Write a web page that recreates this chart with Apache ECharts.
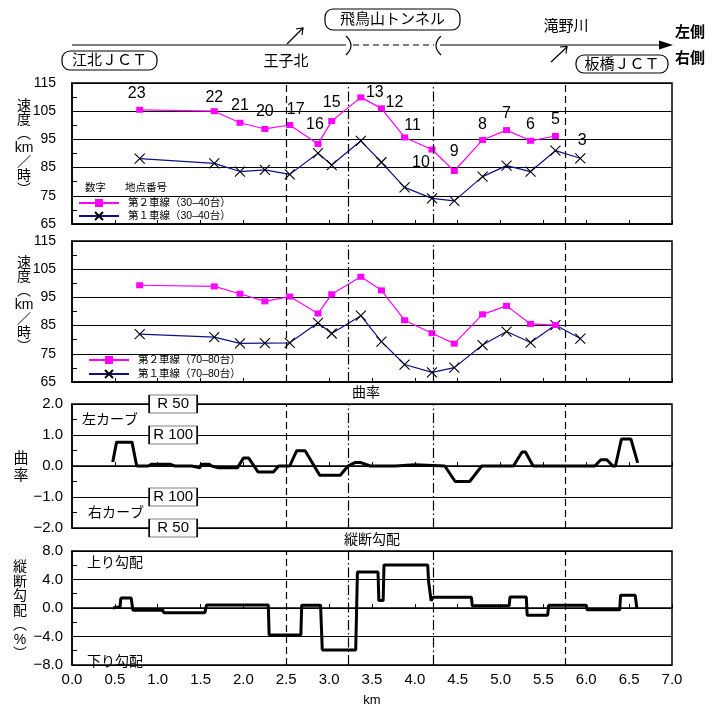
<!DOCTYPE html>
<html>
<head>
<meta charset="utf-8">
<title>速度・曲率・縦断勾配</title>
<script src="https://cdn.jsdelivr.net/npm/echarts@6/dist/echarts.min.js"></script>
<style>
  html, body { margin: 0; padding: 0; background: #fff; }
  #main { width: 719px; height: 708px; }
</style>
</head>
<body>
<div id="main"></div>
<script>
// 地点（km）と地点番号
var kmPts    = [0.79, 1.66, 1.96, 2.25, 2.54, 2.87, 3.03, 3.37, 3.61, 3.88, 4.20, 4.46, 4.79, 5.07, 5.35, 5.64, 5.93];
var stations = [23, 22, 21, 20, 17, 16, 15, 13, 12, 11, 10, 9, 8, 7, 6, 5, 3];

// 速度（km/時）
var lane2_3040 = [105.5, 105.0, 100.9, 98.7, 100.1, 93.4, 101.5, 109.9, 106.0, 95.7, 91.4, 83.8, 94.8, 98.3, 94.5, 96.2, null];
var lane1_3040 = [88.2, 86.5, 83.6, 84.2, 82.6, 90.1, 85.9, 94.5, 86.9, 78.0, 74.1, 73.2, 81.8, 85.7, 83.6, 91.0, 88.3];
var lane2_7080 = [99.3, 98.9, 96.3, 93.6, 95.3, 89.3, 96.1, 102.3, 97.5, 86.9, 82.3, 78.6, 89.0, 92.0, 85.6, 85.2, null];
var lane1_7080 = [82.0, 80.9, 78.7, 78.8, 78.9, 86.0, 82.2, 88.5, 79.3, 71.2, 68.4, 70.1, 78.1, 82.9, 79.0, 85.2, 80.4];

// 曲率
var curvKm  = [0.475, 0.52, 0.70, 0.755, 0.89, 0.93, 1.14, 1.20, 1.40, 1.42, 1.49, 1.51, 1.60, 1.63, 1.71, 1.93, 2.00, 2.06, 2.17, 2.35, 2.41, 2.54, 2.62, 2.72, 2.89, 3.13, 3.22, 3.30, 3.37, 3.48, 3.77, 3.79, 4.00, 4.02, 4.35, 4.47, 4.64, 4.78, 5.15, 5.25, 5.29, 5.38, 6.10, 6.17, 6.24, 6.31, 6.34, 6.41, 6.52, 6.60];
var curvVal = [0.13, 0.77, 0.77, 0, 0, 0.06, 0.06, 0, 0, -0.06, -0.06, 0.06, 0.06, 0, -0.06, -0.06, 0.26, 0.26, -0.19, -0.19, 0, 0, 0.49, 0.49, -0.30, -0.30, 0, 0.11, 0.11, 0, 0, 0.04, 0.04, 0, 0, -0.5, -0.5, 0, 0, 0.45, 0.45, 0, 0, 0.2, 0.2, 0, 0, 0.87, 0.87, 0.1];

// 縦断勾配（%）
var gradKm  = [0.48, 0.53, 0.56, 0.57, 0.69, 0.71, 1.06, 1.07, 1.55, 1.57, 2.29, 2.30, 2.67, 2.68, 2.90, 2.92, 3.31, 3.33, 3.57, 3.58, 3.63, 3.64, 4.15, 4.16, 4.18, 4.19, 4.21, 4.66, 4.67, 5.10, 5.11, 5.30, 5.31, 5.55, 5.56, 6.00, 6.01, 6.39, 6.40, 6.57, 6.59];
var gradVal = [0, 0.1, 0.1, 1.4, 1.4, -0.3, -0.3, -0.65, -0.65, 0.43, 0.43, -3.8, -3.8, 0.4, 0.4, -5.9, -5.9, 5.05, 5.05, 1.04, 1.04, 6.05, 6.05, 3.76, 3.76, 1.0, 1.5, 1.5, 0.3, 0.3, 1.55, 1.55, -1.0, -1.0, 0.38, 0.38, -0.26, -0.26, 1.8, 1.8, 0];

// 区間境界（km）
var boundaries = [2.5, 3.22, 4.21, 5.75];
var boundaryDash = [[7, 4], [10, 3, 1.5, 3], [10, 3, 1.5, 3], [7, 4]];

// 曲率の R 目盛
var rLabels = ['R 50', 'R 100', 'R 100', 'R 50'];
var rCurv   = [2, 1, -1, -2];
var rKm = 1.18;

// 地点番号ラベルのずらし量
var labelOffsets = [[-3,-16],[0,-14],[0,-17],[0,-17],[6,-15],[-3,-19],[0,-18],[14,-5],[13,-6],[8,-12],[-11,13],[0,-19],[0,-15],[0,-17],[0,-16],[0,-16],[2,-18]];

var JP = "'Liberation Sans','Noto Sans CJK JP',sans-serif";
var NARROW = "'Liberation Sans Narrow','Liberation Sans',sans-serif";
var MAGENTA = '#ff00ff', NAVY = '#10108a';
var CROSS = 'path://M0,0L10,10M10,0L0,10';

function labelFor(i) {
  return { show: true, position: 'inside', offset: labelOffsets[i], formatter: String(stations[i]),
           fontSize: 16, color: '#000', fontFamily: "'Liberation Sans',sans-serif" };
}
function lane2Items(vals, labels) {
  var out = [];
  kmPts.forEach(function (k, i) {
    if (vals[i] == null) return;
    out.push({ value: [k, vals[i]], label: labels ? labelFor(i) : { show: false } });
  });
  return out;
}
function lane1Items(vals, top, labels) {
  return kmPts.map(function (k, i) {
    var item = { value: [k, vals[i]] };
    if (labels && top[i] == null) item.label = labelFor(i);
    return item;
  });
}
function pairs(xs, ys) { return xs.map(function (x, i) { return [x, ys[i]]; }); }

var bLines = {
  silent: true, symbol: 'none', label: { show: false },
  data: boundaries.map(function (b, i) {
    return { xAxis: b, lineStyle: { color: '#000', width: 1.2, type: boundaryDash[i] } };
  })
};

var grids = [
  { left: 72, right: 47, top: 83, height: 141 },
  { left: 72, right: 47, top: 241, height: 141 },
  { left: 72, right: 47, top: 404, height: 124 },
  { left: 72, right: 47, top: 551, height: 123 }
].map(function (g) { g.show = true; g.borderColor = '#000'; g.borderWidth = 1.5; return g; });

function xAx(idx) {
  return {
    type: 'value', gridIndex: idx, min: 0, max: 7, interval: 0.5,
    axisLine: { lineStyle: { color: '#000', width: 1.5 } },
    axisTick: { show: true, inside: true, length: 4, lineStyle: { color: '#000' } },
    splitLine: { show: false },
    axisLabel: idx === 3 ? { show: true, fontSize: 15, color: '#000', margin: 7,
                 fontFamily: "'Liberation Sans',sans-serif",
                 formatter: function (v) { return v.toFixed(1); } } : { show: false },
    name: idx === 3 ? 'km' : '', nameLocation: 'middle', nameGap: 29,
    nameTextStyle: { fontSize: 13, color: '#000' }
  };
}
function signed(v) { return (v < 0 ? '−' : '') + Math.abs(v).toFixed(1); }
function yAx(idx, min, max, interval, narrow) {
  return {
    type: 'value', gridIndex: idx, min: min, max: max, interval: interval,
    axisLine: { show: true, lineStyle: { color: '#000', width: 1.5 } },
    axisTick: { show: true, inside: true, length: 5, lineStyle: { color: '#000' } },
    minorTick: { show: true, splitNumber: 2, length: 5, lineStyle: { color: '#000' } },
    splitLine: { show: true, lineStyle: { color: '#000', width: 1.2 } },
    axisLabel: narrow
      ? { fontSize: 14, color: '#000', margin: 16, fontFamily: NARROW }
      : { fontSize: 15, color: '#000', margin: 9, fontFamily: "'Liberation Sans',sans-serif", formatter: signed }
  };
}

function speedSeries(idx, l2, l1, name2, name1, labels) {
  return [
    { name: name2, type: 'line', xAxisIndex: idx, yAxisIndex: idx, data: lane2Items(l2, labels),
      symbol: 'rect', symbolSize: [7, 6], showAllSymbol: true,
      itemStyle: { color: MAGENTA }, lineStyle: { color: MAGENTA, width: 1.2 }, z: 4,
      markLine: bLines },
    { name: name1, type: 'line', xAxisIndex: idx, yAxisIndex: idx, data: lane1Items(l1, l2, labels),
      symbol: CROSS, symbolSize: 10, showAllSymbol: true,
      itemStyle: { color: NAVY, borderColor: '#000', borderWidth: 1.1 },
      lineStyle: { color: NAVY, width: 1.2 }, z: 3 }
  ];
}

var legendText = { fontSize: 10.5, color: '#000', fontFamily: JP, lineHeight: 12, padding: [0, 0, 0, 4] };

function txt(text, x, y, size, extra) {
  var s = { text: text, x: x, y: y, fontSize: size || 14, fontFamily: JP, fill: '#000',
            textAlign: 'center', textVerticalAlign: 'middle' };
  if (extra) for (var k in extra) s[k] = extra[k];
  return { type: 'text', z: 20, style: s };
}
function box(x, y, w, h, text, size) {
  return [
    { type: 'rect', z: 19, shape: { x: x, y: y, width: w, height: h, r: 8 },
      style: { fill: '#fff', stroke: '#000', lineWidth: 1.2 } },
    txt(text, x + w / 2, y + h / 2 + 0.5, size || 15)
  ];
}
var line = function (x1, y1, x2, y2, dash) {
  return { type: 'line', z: 18, shape: { x1: x1, y1: y1, x2: x2, y2: y2 },
           style: { stroke: '#000', lineWidth: 1.2, lineDash: dash || null } };
};

var graphics = [].concat(
  // 上部の路線図
  line(72, 45, 346, 45),
  line(353, 45, 434, 45, [6, 4]),
  line(440, 45, 662, 45),
  { type: 'polygon', z: 18, shape: { points: [[659, 40.5], [673, 45], [659, 49.5]] }, style: { fill: '#000' } },
  { type: 'bezierCurve', z: 18, shape: { x1: 346, y1: 36, x2: 346, y2: 55, cpx1: 356, cpy1: 45.5 }, style: { stroke: '#000', lineWidth: 1.2, fill: null } },
  { type: 'bezierCurve', z: 18, shape: { x1: 441, y1: 36, x2: 441, y2: 55, cpx1: 431, cpy1: 45.5 }, style: { stroke: '#000', lineWidth: 1.2, fill: null } },
  line(287, 44, 303, 28),
  { type: 'polyline', z: 18, shape: { points: [[296, 29], [303, 28], [302, 35]] }, style: { stroke: '#000', lineWidth: 1.2, fill: null } },
  line(551, 62, 567, 47),
  { type: 'polyline', z: 18, shape: { points: [[560, 47], [567, 46.5], [566, 53.5]] }, style: { stroke: '#000', lineWidth: 1.2, fill: null } },
  box(62, 51, 95, 19, '江北ＪＣＴ'),
  box(325, 9, 135, 21, '飛鳥山トンネル'),
  box(576, 55, 92, 18, '板橋ＪＣＴ'),
  txt('王子北', 286, 62, 15),
  txt('滝野川', 566, 27, 15),
  txt('左側', 690, 33, 15, { fontWeight: 'bold' }),
  txt('右側', 690, 59, 15, { fontWeight: 'bold' }),
  // 軸名
  txt('速\n度\n︵\nkm\n／\n時\n︶', 24, 148, 14, { lineHeight: 14 }),
  txt('速\n度\n︵\nkm\n／\n時\n︶', 24, 305, 14, { lineHeight: 14 }),
  txt('曲\n率', 21, 467, 15, { lineHeight: 17 }),
  txt('縦\n断\n勾\n配\n︵\n%\n︶', 20, 611, 14, { lineHeight: 14.5 }),
  // 凡例見出し・注記
  txt('数字', 85, 188, 10.5, { textAlign: 'left' }),
  txt('地点番号', 125, 188, 10.5, { textAlign: 'left' }),
  txt('曲率', 366, 393, 14),
  txt('縦断勾配', 372, 540, 14),
  txt('左カーブ', 82, 420, 14, { textAlign: 'left' }),
  txt('右カーブ', 88, 513, 14, { textAlign: 'left' }),
  txt('上り勾配', 87, 563, 14, { textAlign: 'left' }),
  txt('下り勾配', 87, 662, 14, { textAlign: 'left' })
);

var option = {
  animation: false,
  backgroundColor: '#fff',
  textStyle: { fontFamily: JP },
  grid: grids,
  xAxis: [xAx(0), xAx(1), xAx(2), xAx(3)],
  yAxis: [yAx(0, 65, 115, 10, true), yAx(1, 65, 115, 10, true), yAx(2, -2, 2, 1, false), yAx(3, -8, 8, 4, false)],
  legend: [
    { data: ['第２車線（30–40台）', '第１車線（30–40台）'], left: 73, top: 192, orient: 'vertical',
      itemWidth: 40, itemHeight: 10, itemGap: 1, textStyle: legendText, selectedMode: false },
    { data: ['第２車線（70–80台）', '第１車線（70–80台）'], left: 83, top: 349, orient: 'vertical',
      itemWidth: 40, itemHeight: 10, itemGap: 2, textStyle: legendText, selectedMode: false }
  ],
  series: [].concat(
    speedSeries(0, lane2_3040, lane1_3040, '第２車線（30–40台）', '第１車線（30–40台）', true),
    speedSeries(1, lane2_7080, lane1_7080, '第２車線（70–80台）', '第１車線（70–80台）', false),
    [
      { name: '曲率', type: 'line', xAxisIndex: 2, yAxisIndex: 2, data: pairs(curvKm, curvVal),
        showSymbol: false, lineStyle: { color: '#000', width: 3 }, z: 4,
        markLine: bLines,
        markPoint: {
          silent: true, symbol: 'rect', symbolSize: [48, 18],
          itemStyle: { color: '#fff', borderColor: '#000', borderWidth: 1 },
          label: { show: true, color: '#000', fontSize: 15, fontFamily: "'Liberation Sans',sans-serif",
                   formatter: function (p) { return p.name; } },
          data: rLabels.map(function (t, i) { return { name: t, coord: [rKm, rCurv[i]] }; })
        } },
      { name: '縦断勾配', type: 'line', xAxisIndex: 3, yAxisIndex: 3, data: pairs(gradKm, gradVal),
        showSymbol: false, lineStyle: { color: '#000', width: 3 }, z: 4,
        markLine: bLines }
    ]
  ),
  graphic: graphics
};

var chart = echarts.init(document.getElementById('main'), null, { renderer: 'canvas' });
chart.setOption(option);
</script>
</body>
</html>
